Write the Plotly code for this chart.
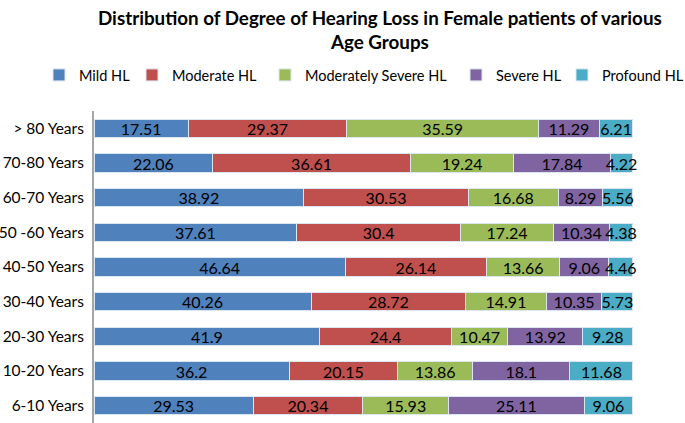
"""Stacked horizontal bar chart: hearing loss degree by age group (female)."""

import plotly.graph_objects as go

AGE_GROUPS = [
    "> 80 Years",
    "70-80 Years",
    "60-70 Years",
    "50 -60 Years",
    "40-50 Years",
    "30-40 Years",
    "20-30 Years",
    "10-20 Years",
    "6-10 Years",
]

MILD = [17.51, 22.06, 38.92, 37.61, 46.64, 40.26, 41.9, 36.2, 29.53]
MODERATE = [29.37, 36.61, 30.53, 30.4, 26.14, 28.72, 24.4, 20.15, 20.34]
MOD_SEVERE = [35.59, 19.24, 16.68, 17.24, 13.66, 14.91, 10.47, 13.86, 15.93]
SEVERE = [11.29, 17.84, 8.29, 10.34, 9.06, 10.35, 13.92, 18.1, 25.11]
PROFOUND = [6.21, 4.22, 5.56, 4.38, 4.46, 5.73, 9.28, 11.68, 9.06]

SERIES = [
    ("Mild HL", MILD, "#4F81BD"),
    ("Moderate HL", MODERATE, "#C0504D"),
    ("Moderately Severe HL", MOD_SEVERE, "#9BBB59"),
    ("Severe HL", SEVERE, "#8064A2"),
    ("Profound HL", PROFOUND, "#4BACC6"),
]

# left edge (px) of each legend entry, one legend per series so the row doesn't wrap
LEGEND_X = [39, 132, 265, 456, 562]

FONT = "Lato, Open Sans, sans-serif"
W, H = 685, 423

fig = go.Figure()
legends = {}
for i, (name, values, color) in enumerate(SERIES):
    key = "legend" if i == 0 else f"legend{i + 1}"
    fig.add_trace(
        go.Bar(
            y=AGE_GROUPS,
            x=values,
            name=name,
            orientation="h",
            legend=key,
            showlegend=True,
            marker={"color": color, "line": {"color": "#dce6f0", "width": 1}},
            text=[f"{v:g}" for v in values],
            textposition="inside",
            insidetextanchor="middle",
            textangle=0,
            textfont={"color": "black", "size": 16, "family": FONT},
            cliponaxis=False,
        )
    )
    legends[key] = {
        "orientation": "h",
        "x": LEGEND_X[i] / W,
        "xref": "container",
        "xanchor": "left",
        "y": 1 - 75 / H,
        "yref": "container",
        "yanchor": "middle",
        "itemwidth": 30,
        "font": {"size": 14.5, "family": FONT},
        "bgcolor": "rgba(0,0,0,0)",
    }

fig.update_layout(
    barmode="stack",
    bargap=0.47,
    width=W,
    height=H,
    showlegend=True,
    margin={"l": 94, "r": 52, "t": 111, "b": 0, "autoexpand": False},
    paper_bgcolor="white",
    plot_bgcolor="white",
    font={"family": FONT, "color": "#000000"},
    uniformtext={"minsize": 16, "mode": "show"},
    xaxis={"range": [0, 100], "visible": False},
    yaxis={
        "categoryorder": "array",
        "categoryarray": AGE_GROUPS[::-1],
        "showline": True,
        "linecolor": "#a6a6a6",
        "linewidth": 2,
        "ticks": "",
        "automargin": False,
        "tickfont": {"size": 15.5, "family": FONT},
        "ticklabelstandoff": 5,
    },
    annotations=[
        {
            "text": "<b>Distribution of Degree of Hearing Loss in Female patients of various<br>Age Groups</b>",
            "xref": "paper",
            "yref": "paper",
            "x": 0.53,
            "y": 1 + (111 - 29) / 312,
            "xanchor": "center",
            "yanchor": "middle",
            "showarrow": False,
            "font": {"size": 18.8, "family": FONT},
        }
    ],
    **legends,
)

# the page's default body margin would shift the whole figure by 8px
fig.write_html(
    "out.html",
    config={"displayModeBar": False},
    post_script="document.body.style.margin='0';",
)
